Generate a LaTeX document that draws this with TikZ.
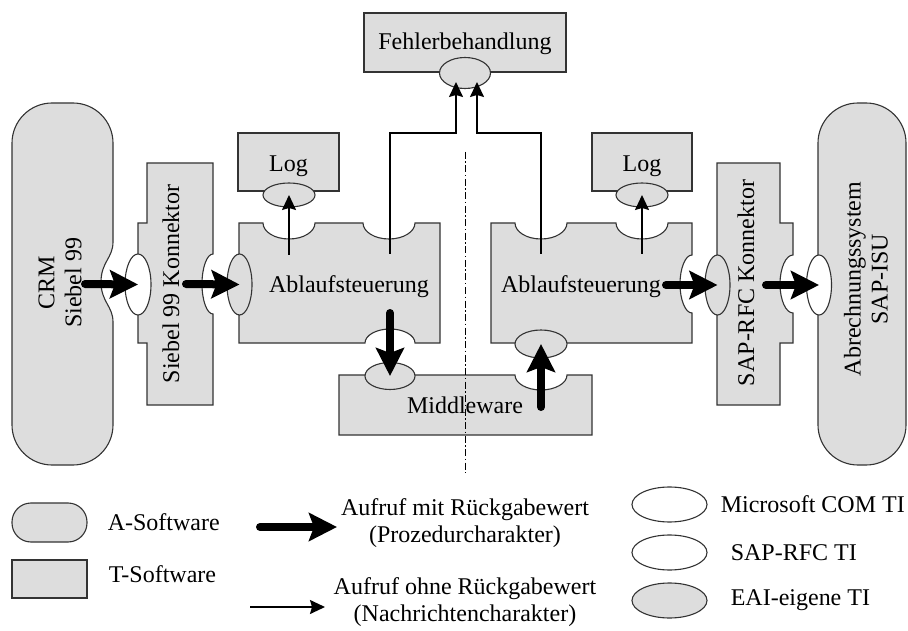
\documentclass[tikz,border=0pt]{standalone}
\usepackage{fontspec}
\setmainfont{Liberation Serif}
\usetikzlibrary{shapes.geometric, arrows.meta, positioning}
\definecolor{softgrey}{RGB}{221,221,221}
\newcommand{\notchtop}[2]{.. controls +(0,{0.55*#2}) and +({-0.55*#1},0) .. ++(#1,#2) .. controls +({0.55*#1},0) and +(0,{0.55*#2}) .. ++(#1,-#2)}
\newcommand{\notchbottom}[2]{.. controls +(0,{-0.55*#2}) and +({0.55*#1},0) .. ++(-#1,-#2) .. controls +({-0.55*#1},0) and +(0,{-0.55*#2}) .. ++(-#1,#2)}
\newcommand{\notchright}[2]{.. controls +({-0.55*#2},0) and +(0,{-0.55*#1}) .. ++(-#2,#1) .. controls +(0,{0.55*#1}) and +({-0.55*#2},0) .. ++(#2,#1)}

\begin{document}
\begin{tikzpicture}[x=1pt, y=-1pt, font=\fontsize{24}{27}\selectfont]
\tikzstyle{tsoft} = [draw=black!80, line width=1.1pt, fill=softgrey]
\tikzstyle{asoft} = [tsoft, rectangle, rounded corners=40pt]
\tikzstyle{port} = [ellipse, draw=black!80, line width=1.1pt, inner sep=0pt]
\tikzstyle{comti} = [port, fill=white]
\tikzstyle{eaiti} = [port, fill=softgrey]
\tikzstyle{callret} = [line width=8pt, line cap=round, -{Stealth[length=28pt, width=28pt, inset=5pt]}]
\tikzstyle{callmsg} = [line width=1.6pt, -{Stealth[length=15pt, width=14pt, inset=2pt]}]
\useasboundingbox (0,0) rectangle (908,631);

\draw[tsoft] (12,143) .. controls (12,121) and (30,103) .. (52,103) -- (73,103) .. controls (95,103) and (113,121) .. (113,143) -- (113,242) .. controls (113,258) and (101,262) .. (101,282) .. controls (101,302) and (113,306) .. (113,322) -- (113,425) .. controls (113,447) and (95,465) .. (73,465) -- (52,465) .. controls (30,465) and (12,447) .. (12,425) -- cycle;
\draw[tsoft] (147,163) -- (213,163) -- (213,254) \notchright{30}{11} -- (213,405) -- (147,405) -- (147,343) -- (138,343) -- (138,223) -- (147,223) -- cycle;
\draw[tsoft] (239,223) -- (263,223) \notchtop{26}{16} -- (363,223) \notchtop{26}{16} -- (440,223) -- (440,343) -- (415,343) \notchbottom{25}{14} -- (239,343) -- cycle;
\draw[tsoft] (339,375) -- (515,375) \notchtop{26}{15} -- (592,375) -- (592,435) -- (339,435) -- cycle;
\draw[tsoft] (491,223) -- (515,223) \notchtop{26}{16} -- (616,223) \notchtop{26}{16} -- (692,223) -- (692,255) \notchright{29}{12} -- (692,343) -- (491,343) -- cycle;
\draw[tsoft] (717,163) -- (780,163) -- (780,223) -- (793,223) -- (793,255) \notchright{29}{13} -- (793,343) -- (780,343) -- (780,405) -- (717,405) -- cycle;
\node[asoft, minimum width=88pt, minimum height=362pt] (isu) at (862,284) {};
\node[tsoft, rectangle, minimum width=202pt, minimum height=59pt, text height=20pt, text depth=5pt] (fehler) at (465,42.5) {Fehlerbehandlung};
\node[tsoft, rectangle, minimum width=101pt, minimum height=58pt, text height=25pt, text depth=5pt] (logL) at (288.5,162) {Log};
\node[tsoft, rectangle, minimum width=100pt, minimum height=58pt, text height=25pt, text depth=5pt] (logR) at (642,162) {Log};

\node (crm) at (60,283) [rotate=90, align=center] {CRM\\Siebel 99};
\node (siebel) at (171,284) [rotate=90] {Siebel 99 Konnektor};
\node (ablaufL) at (349,293) [anchor=base] {Ablaufsteuerung};
\node (ablaufR) at (581,293) [anchor=base] {Ablaufsteuerung};
\node (middleware) at (465,413) [anchor=base] {Middleware};
\node (saprfc) at (746,283) [rotate=90] {SAP-RFC Konnektor};
\node (isuText) at (866,279) [rotate=90, align=center] {Abrechnungssystem\\SAP-ISU};

\node[comti, minimum width=26pt, minimum height=61pt] (comL) at (138,284.5) {};
\node[eaiti, minimum width=25pt, minimum height=61pt] (eaiL) at (239.5,284.5) {};
\node[eaiti, minimum width=25pt, minimum height=60pt] (eaiR) at (717.5,285) {};
\node[comti, minimum width=25pt, minimum height=60pt] (rfcR) at (819,285) {};
\node[eaiti, minimum width=52pt, minimum height=24pt] (logLTI) at (289,195) {};
\node[eaiti, minimum width=52pt, minimum height=24pt] (logRTI) at (642,195) {};
\node[eaiti, minimum width=51pt, minimum height=31pt] (fehlerTI) at (465,73) {};
\node[eaiti, minimum width=50pt, minimum height=27pt] (mwTI) at (390,376) {};
\node[eaiti, minimum width=52pt, minimum height=28pt] (ablRTI) at (541,344) {};

\coordinate (crmOut) at (85,284);
\coordinate (siebelOut) at (186,284);
\coordinate (ablaufROut) at (666,285);
\coordinate (rfcOut) at (766,285);
\coordinate (ablaufLDown) at (390,313);
\coordinate (mwUp) at (541,407);
\coordinate (logLOut) at (289,255);
\coordinate (logROut) at (642,254);
\coordinate (errLOut) at (390,254);
\coordinate (errROut) at (541,254);
\coordinate (errLIn) at (456,82);
\coordinate (errRIn) at (477,82);
\draw[callret] (crmOut) -- (comL.center);
\draw[callret] (siebelOut) -- (eaiL.center);
\draw[callret] (ablaufROut) -- (eaiR.center);
\draw[callret] (rfcOut) -- (rfcR.center);
\draw[callret] (ablaufLDown) -- (mwTI.center);
\draw[callret] (mwUp) -- (ablRTI.center);
\draw[callmsg] (logLOut) -- (logLTI.center);
\draw[callmsg] (logROut) -- (logRTI.center);
\draw[callmsg] (errLOut) -- ++(0,-121) -| (errLIn);
\draw[callmsg] (errROut) -- ++(0,-121) -| (errRIn);

\coordinate (axisTop) at (465.5,152);
\coordinate (axisBottom) at (465.5,473);
\draw[line width=1pt, dash pattern=on 7pt off 2.5pt on 1.5pt off 2.5pt] (axisTop) -- (axisBottom);

\node[asoft, rounded corners=19pt, minimum width=75pt, minimum height=39pt] (legA) at (49.5,522.5) {};
\node[tsoft, rectangle, minimum width=75pt, minimum height=38pt] (legT) at (49.5,579) {};
\node[right=16.7pt of legA] (legAText) {A-Software};
\node[anchor=base] (legTText) at (162.5,582) {T-Software};
\coordinate (legRetFrom) at (260,527);
\coordinate (legRetTo) at (337,527);
\coordinate (legMsgFrom) at (250,607);
\coordinate (legMsgTo) at (325,607);
\draw[callret] (legRetFrom) -- (legRetTo);
\draw[callmsg] (legMsgFrom) -- (legMsgTo);
\node[align=center, anchor=base] (legRet) at (465,542) {Aufruf mit Rückgabewert\\(Prozedurcharakter)};
\node[align=center, anchor=base] (legMsg) at (465,621) {Aufruf ohne Rückgabewert\\(Nachrichtencharakter)};
\node[comti, minimum width=75pt, minimum height=35pt] (legCom) at (669.5,504.5) {};
\node[comti, minimum width=75pt, minimum height=35pt] (legRfc) at (669.5,552.5) {};
\node[eaiti, minimum width=75pt, minimum height=35pt] (legEai) at (669.5,600.5) {};
\node[right=9.7pt of legCom] (legComText) {Microsoft COM TI};
\node[right=19.7pt of legRfc] (legRfcText) {SAP-RFC TI};
\node[right=19.7pt of legEai] (legEaiText) {EAI-eigene TI};
\end{tikzpicture}
\end{document}
